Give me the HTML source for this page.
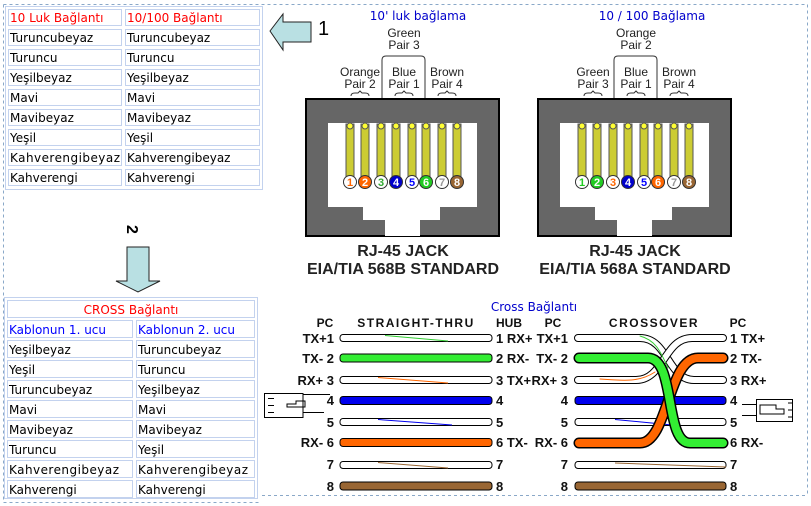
<!DOCTYPE html>
<html><head><meta charset="utf-8"><style>
html,body{margin:0;padding:0;background:#fff;width:811px;height:506px;overflow:hidden}
svg{display:block}
.t{font-family:"DejaVu Sans",sans-serif;font-size:12px;fill:#000}
.b{font-family:"Liberation Sans",Arial,sans-serif;font-weight:bold;font-size:13px;fill:#111}
.p{font-family:"Liberation Sans",Arial,sans-serif;font-size:12px;fill:#222;text-anchor:middle}
.h{font-family:"Liberation Sans",Arial,sans-serif;font-weight:bold;font-size:16px;fill:#222;text-anchor:middle}
</style></head><body>
<svg width="811" height="506" viewBox="0 0 811 506" xmlns="http://www.w3.org/2000/svg">
<g stroke="#8aa8c8" stroke-dasharray="3,3" fill="none" stroke-width="1">
<path d="M3.5,4.5H807.5V495.5"/>
<path d="M3.5,4.5V502.5H260"/>
<path d="M262,495.5H807.5"/>
</g>

<g fill="none" stroke="#c3d2ee">
<rect x="5.5" y="6.5" width="257" height="183"/>
</g>
<g fill="#fff" stroke="#c3d2ee">
<rect x="8.5" y="9.5" width="113" height="16"/><rect x="125.5" y="9.5" width="134" height="16"/>
<rect x="8.5" y="29.5" width="113" height="16"/><rect x="125.5" y="29.5" width="134" height="16"/>
<rect x="8.5" y="49.5" width="113" height="16"/><rect x="125.5" y="49.5" width="134" height="16"/>
<rect x="8.5" y="69.5" width="113" height="16"/><rect x="125.5" y="69.5" width="134" height="16"/>
<rect x="8.5" y="89.5" width="113" height="16"/><rect x="125.5" y="89.5" width="134" height="16"/>
<rect x="8.5" y="109.5" width="113" height="16"/><rect x="125.5" y="109.5" width="134" height="16"/>
<rect x="8.5" y="129.5" width="113" height="16"/><rect x="125.5" y="129.5" width="134" height="16"/>
<rect x="8.5" y="149.5" width="113" height="16"/><rect x="125.5" y="149.5" width="134" height="16"/>
<rect x="8.5" y="169.5" width="113" height="16"/><rect x="125.5" y="169.5" width="134" height="16"/>
</g>
<g class="t">
<text x="10" y="22" style="fill:#f00">10 Luk Bağlantı</text><text x="127" y="22" style="fill:#f00">10/100 Bağlantı</text>
<text x="10" y="42">Turuncubeyaz</text><text x="127" y="42">Turuncubeyaz</text>
<text x="10" y="62">Turuncu</text><text x="127" y="62">Turuncu</text>
<text x="10" y="82">Yeşilbeyaz</text><text x="127" y="82">Yeşilbeyaz</text>
<text x="10" y="102">Mavi</text><text x="127" y="102">Mavi</text>
<text x="10" y="122">Mavibeyaz</text><text x="127" y="122">Mavibeyaz</text>
<text x="10" y="142">Yeşil</text><text x="127" y="142">Yeşil</text>
<text x="10" y="162" textLength="110">Kahverengibeyaz</text><text x="127" y="162">Kahverengibeyaz</text>
<text x="10" y="182">Kahverengi</text><text x="127" y="182">Kahverengi</text>
</g>

<path d="M270,31 L283,14 V22 H311 V42 H283 V50 Z" fill="#b9e0e3" stroke="#222" stroke-width="1"/>
<text x="318" y="35" style="font-family:'Liberation Sans',Arial,sans-serif;font-size:20px">1</text>

<text x="0" y="0" transform="translate(127,225) rotate(90)" style="font-family:'Liberation Sans',Arial,sans-serif;font-size:16px;font-weight:bold">2</text>
<path d="M127,247 H149 V281 H160 L138,292 L116,281 H127 Z" fill="#b9e0e3" stroke="#222" stroke-width="1"/>

<rect x="4.5" y="297.5" width="253" height="201" fill="none" stroke="#c3d2ee"/>
<g fill="#fff" stroke="#c3d2ee">
<rect x="7.5" y="300.5" width="247" height="17"/>
<rect x="7.5" y="320.5" width="125" height="17"/><rect x="136.5" y="320.5" width="118" height="17"/>
<rect x="7.5" y="340.5" width="125" height="17"/><rect x="136.5" y="340.5" width="118" height="17"/>
<rect x="7.5" y="360.5" width="125" height="17"/><rect x="136.5" y="360.5" width="118" height="17"/>
<rect x="7.5" y="380.5" width="125" height="17"/><rect x="136.5" y="380.5" width="118" height="17"/>
<rect x="7.5" y="400.5" width="125" height="17"/><rect x="136.5" y="400.5" width="118" height="17"/>
<rect x="7.5" y="420.5" width="125" height="17"/><rect x="136.5" y="420.5" width="118" height="17"/>
<rect x="7.5" y="440.5" width="125" height="17"/><rect x="136.5" y="440.5" width="118" height="17"/>
<rect x="7.5" y="460.5" width="125" height="17"/><rect x="136.5" y="460.5" width="118" height="17"/>
<rect x="7.5" y="480.5" width="125" height="17"/><rect x="136.5" y="480.5" width="118" height="17"/>
</g>
<g class="t">
<text x="131" y="314" text-anchor="middle" style="fill:#f00">CROSS Bağlantı</text>
<text x="9" y="334" style="fill:#00f">Kablonun 1. ucu</text><text x="138" y="334" style="fill:#00f">Kablonun 2. ucu</text>
<text x="9" y="354">Yeşilbeyaz</text><text x="138" y="354">Turuncubeyaz</text>
<text x="9" y="374">Yeşil</text><text x="138" y="374">Turuncu</text>
<text x="9" y="394">Turuncubeyaz</text><text x="138" y="394">Yeşilbeyaz</text>
<text x="9" y="414">Mavi</text><text x="138" y="414">Mavi</text>
<text x="9" y="434">Mavibeyaz</text><text x="138" y="434">Mavibeyaz</text>
<text x="9" y="454">Turuncu</text><text x="138" y="454">Yeşil</text>
<text x="9" y="474" textLength="110">Kahverengibeyaz</text><text x="138" y="474" textLength="110">Kahverengibeyaz</text>
<text x="9" y="494">Kahverengi</text><text x="138" y="494">Kahverengi</text>
</g>

<defs>
<g id="jack">
<rect x="306" y="99" width="193" height="137" fill="#666" stroke="#000" stroke-width="2"/>
<path d="M328,123 H477 V207 H440 V220 H420 V236 H385 V220 H363 V207 H328 Z" fill="#fff"/>
<g fill="#cccc33" stroke="#555" stroke-width="1">
<rect x="346" y="124" width="8" height="56"/><rect x="361" y="124" width="8" height="56"/>
<rect x="377" y="124" width="8" height="56"/><rect x="392" y="124" width="8" height="56"/>
<rect x="408" y="124" width="8" height="56"/><rect x="422" y="124" width="8" height="56"/>
<rect x="438" y="124" width="8" height="56"/><rect x="453" y="124" width="8" height="56"/>
</g>
<g fill="#ffff33" stroke="#555"><circle cx="350" cy="126" r="3"/><circle cx="365" cy="126" r="3"/><circle cx="381" cy="126" r="3"/><circle cx="396" cy="126" r="3"/><circle cx="412" cy="126" r="3"/><circle cx="426" cy="126" r="3"/><circle cx="442" cy="126" r="3"/><circle cx="457" cy="126" r="3"/></g>
<text class="h" x="403" y="256">RJ-45 JACK</text>
</g>
</defs>
<use href="#jack"/>
<use href="#jack" transform="translate(232,0)"/>
<text class="h" x="403" y="274">EIA/TIA 568B STANDARD</text>
<text class="h" x="635" y="274">EIA/TIA 568A STANDARD</text>

<g style="font-family:'Liberation Sans',Arial,sans-serif;font-weight:bold;font-size:11px" text-anchor="middle">
<circle cx="350" cy="182" r="6.5" fill="#fff" stroke="#333"/><text x="350" y="186" fill="#f60">1</text>
<circle cx="365" cy="182" r="6.5" fill="#f60" stroke="#333"/><text x="365" y="186" fill="#fff">2</text>
<circle cx="381" cy="182" r="6.5" fill="#fff" stroke="#333"/><text x="381" y="186" fill="#3a3">3</text>
<circle cx="396" cy="182" r="6.5" fill="#00c" stroke="#333"/><text x="396" y="186" fill="#fff">4</text>
<circle cx="412" cy="182" r="6.5" fill="#fff" stroke="#333"/><text x="412" y="186" fill="#00f">5</text>
<circle cx="426" cy="182" r="6.5" fill="#2c2" stroke="#333"/><text x="426" y="186" fill="#fff">6</text>
<circle cx="442" cy="182" r="6.5" fill="#fff" stroke="#333"/><text x="442" y="186" fill="#999">7</text>
<circle cx="457" cy="182" r="6.5" fill="#963" stroke="#333"/><text x="457" y="186" fill="#fff">8</text>
<circle cx="582" cy="182" r="6.5" fill="#fff" stroke="#333"/><text x="582" y="186" fill="#2c2">1</text>
<circle cx="597" cy="182" r="6.5" fill="#2c2" stroke="#333"/><text x="597" y="186" fill="#fff">2</text>
<circle cx="613" cy="182" r="6.5" fill="#fff" stroke="#333"/><text x="613" y="186" fill="#f60">3</text>
<circle cx="628" cy="182" r="6.5" fill="#00c" stroke="#333"/><text x="628" y="186" fill="#fff">4</text>
<circle cx="644" cy="182" r="6.5" fill="#fff" stroke="#333"/><text x="644" y="186" fill="#00f">5</text>
<circle cx="658" cy="182" r="6.5" fill="#f60" stroke="#333"/><text x="658" y="186" fill="#fff">6</text>
<circle cx="674" cy="182" r="6.5" fill="#fff" stroke="#333"/><text x="674" y="186" fill="#999">7</text>
<circle cx="689" cy="182" r="6.5" fill="#963" stroke="#333"/><text x="689" y="186" fill="#fff">8</text>
</g>

<g class="p">
<text x="418" y="20" style="fill:#00c;font-family:'DejaVu Sans',sans-serif;font-size:12px">10' luk bağlama</text>
<text x="404" y="37">Green</text><text x="404" y="49">Pair 3</text>
<text x="360" y="76">Orange</text><text x="360" y="88">Pair 2</text>
<text x="404" y="76">Blue</text><text x="404" y="88">Pair 1</text>
<text x="447" y="76">Brown</text><text x="447" y="88">Pair 4</text>
<text x="652" y="20" style="fill:#00c;font-family:'DejaVu Sans',sans-serif;font-size:12px">10 / 100 Bağlama</text>
<text x="636" y="37">Orange</text><text x="636" y="49">Pair 2</text>
<text x="593" y="76">Green</text><text x="593" y="88">Pair 3</text>
<text x="636" y="76">Blue</text><text x="636" y="88">Pair 1</text>
<text x="679" y="76">Brown</text><text x="679" y="88">Pair 4</text>
</g>
<g fill="none" stroke="#333" stroke-width="1">
<path d="M382,98 V60 Q382,56 386,56 H421 Q425,56 425,60 V98"/>
<path d="M351,96 Q351,93 355,93 H358 L360,91 L362,93 H365 Q369,93 369,96"/>
<path d="M395,96 Q395,93 399,93 H402 L404,91 L406,93 H409 Q413,93 413,96"/>
<path d="M438,96 Q438,93 442,93 H445 L447,91 L449,93 H452 Q456,93 456,96"/>
<path d="M614,98 V60 Q614,56 618,56 H653 Q657,56 657,60 V98"/>
<path d="M584,96 Q584,93 588,93 H591 L593,91 L595,93 H598 Q602,93 602,96"/>
<path d="M627,96 Q627,93 631,93 H634 L636,91 L638,93 H641 Q645,93 645,96"/>
<path d="M670,96 Q670,93 674,93 H677 L679,91 L681,93 H684 Q688,93 688,96"/>
</g>

<text x="534" y="311" text-anchor="middle" style="font-family:'DejaVu Sans',sans-serif;font-size:12px;fill:#00c">Cross Bağlantı</text>

<g class="b" style="font-size:12px">
<text x="325" y="327" text-anchor="middle">PC</text>
<text x="416" y="327" text-anchor="middle" letter-spacing="1.5">STRAIGHT-THRU</text>
<text x="509" y="327" text-anchor="middle">HUB</text>
</g>
<g stroke="#000" stroke-width="1">
<rect x="340" y="334.5" width="152" height="7" rx="3" fill="#fff"/>
<rect x="340" y="354" width="152" height="8" rx="3" fill="#3e3"/>
<rect x="340" y="376.5" width="152" height="7" rx="3" fill="#fff"/>
<rect x="340" y="396.5" width="152" height="8" rx="3" fill="#00e"/>
<rect x="340" y="418.5" width="152" height="7" rx="3" fill="#fff"/>
<rect x="340" y="438.5" width="152" height="8" rx="3" fill="#f60"/>
<rect x="340" y="461.5" width="152" height="7" rx="3" fill="#fff"/>
<rect x="340" y="482" width="152" height="8" rx="3" fill="#963"/>
</g>
<g stroke-width="1" fill="none">
<path d="M385,335.5 L448,341" stroke="#3c3"/>
<path d="M378,377.5 L448,383" stroke="#f60"/>
<path d="M378,419.5 L452,425" stroke="#00e"/>
<path d="M378,462.5 L448,468" stroke="#963"/>
</g>
<g class="b">
<g text-anchor="end">
<text x="334" y="343">TX+1</text><text x="334" y="363">TX- 2</text><text x="334" y="385">RX+ 3</text><text x="334" y="405">4</text>
<text x="334" y="427">5</text><text x="334" y="447">RX- 6</text><text x="334" y="469">7</text><text x="334" y="491">8</text>
</g>
<text x="496" y="343">1 RX+</text><text x="496" y="363">2 RX-</text><text x="496" y="385">3 TX+</text><text x="496" y="405">4</text>
<text x="496" y="427">5</text><text x="496" y="447">6 TX-</text><text x="496" y="469">7</text><text x="496" y="491">8</text>
</g>
<g fill="none" stroke="#000" stroke-width="1">
<path d="M264.5,393.5 H303 V417.5 H264.5 Z"/><path d="M303,394.5 H330 M303,412.5 H324"/>
<path d="M268,398.5 H274 M268,405.5 H274 M268,412.5 H274 M287,404 H296 V401 H305 V407 H287 Z"/>
</g>

<g class="b" style="font-size:12px">
<text x="553" y="327" text-anchor="middle">PC</text>
<text x="654" y="327" text-anchor="middle" letter-spacing="1.5">CROSSOVER</text>
<text x="738" y="327" text-anchor="middle">PC</text>
</g>
<g stroke="#000" stroke-width="1">
<rect x="575" y="396.5" width="151" height="8" rx="3" fill="#00e"/>
<rect x="575" y="418.5" width="151" height="7" rx="3" fill="#fff"/>
<rect x="575" y="461.5" width="151" height="7" rx="3" fill="#fff"/>
<rect x="575" y="482" width="151" height="8" rx="3" fill="#963"/>
</g>
<path d="M615,419.5 L672,425" stroke="#00e" fill="none"/>
<path d="M615,463 L726,467" stroke="#963" fill="none"/>
<g fill="none" stroke-linecap="round">
<path d="M578,338 H640 C668,338 668,380 694,380 H723" stroke="#000" stroke-width="8"/>
<path d="M578,338 H640 C668,338 668,380 694,380 H723" stroke="#fff" stroke-width="6"/>
<path d="M578,380 H636 C664,380 664,338 692,338 H723" stroke="#000" stroke-width="8"/>
<path d="M578,380 H636 C664,380 664,338 692,338 H723" stroke="#fff" stroke-width="6"/>
<path d="M600,379 C625,381 640,382 655,372" stroke="#f60" stroke-width="1"/>
<path d="M640,336 C655,340 660,350 668,368" stroke="#3c3" stroke-width="1"/>
<path d="M579,443 H640 C668,443 668,358 698,358 H723" stroke="#000" stroke-width="11"/>
<path d="M579,443 H640 C668,443 668,358 698,358 H723" stroke="#f60" stroke-width="8"/>
<path d="M579,358 H648 C676,358 664,443 690,443 H723" stroke="#000" stroke-width="11"/>
<path d="M579,358 H648 C676,358 664,443 690,443 H723" stroke="#3e3" stroke-width="8"/>
</g>
<g class="b">
<g text-anchor="end">
<text x="568" y="343">TX+1</text><text x="568" y="363">TX- 2</text><text x="568" y="385">RX+ 3</text><text x="568" y="405">4</text>
<text x="568" y="427">5</text><text x="568" y="447">RX- 6</text><text x="568" y="469">7</text><text x="568" y="491">8</text>
</g>
<text x="730" y="343">1 TX+</text><text x="730" y="363">2 TX-</text><text x="730" y="385">3 RX+</text><text x="730" y="405">4</text>
<text x="730" y="427">5</text><text x="730" y="447">6 RX-</text><text x="730" y="469">7</text><text x="730" y="491">8</text>
</g>
<g fill="none" stroke="#000" stroke-width="1">
<path d="M756.5,399.5 H792.5 V421.5 H756.5 Z"/><path d="M742,404.5 H756 M742,415.5 H756"/>
<path d="M760,405 H776 V409 H784 V414 H760 Z M788,403 H793 M788,410 H793 M788,417 H793"/>
</g>
</svg>
</body></html>
